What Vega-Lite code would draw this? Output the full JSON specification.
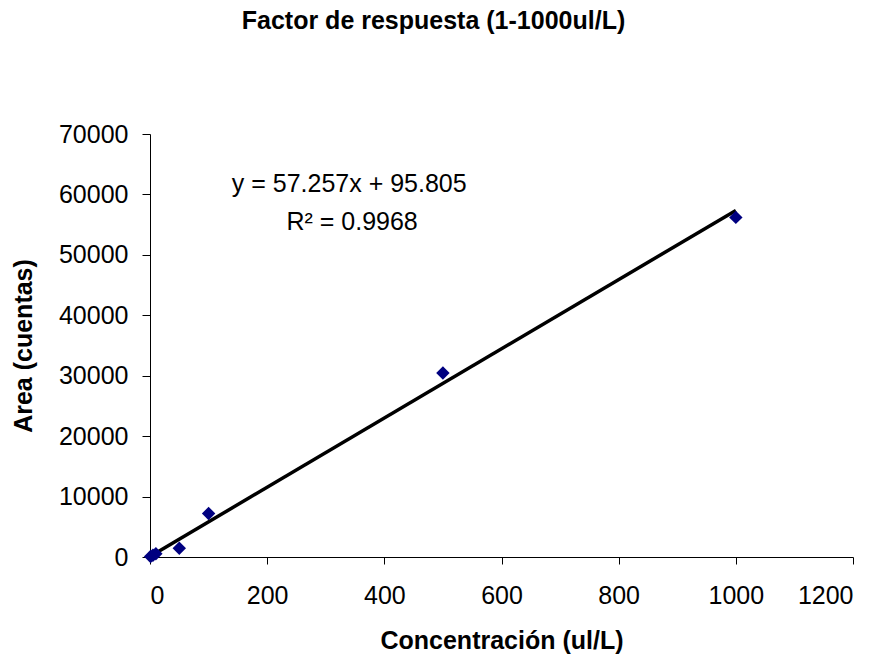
{
  "$schema": "https://vega.github.io/schema/vega-lite/v6.json",
  "width": 703,
  "height": 423,
  "autosize": {"type": "none"},
  "padding": {"left": 150, "top": 134, "right": 36, "bottom": 101},
  "background": "white",
  "config": {
    "view": {"stroke": null},
    "font": "Liberation Sans"
  },
  "title": {
    "text": "Factor de respuesta (1-1000ul/L)",
    "font": "Liberation Sans",
    "fontSize": 25,
    "fontWeight": "bold",
    "color": "black",
    "anchor": "middle",
    "dx": -68,
    "offset": 88
  },
  "datasets": {
    "points": [
      {"conc": 1, "area": 90},
      {"conc": 5, "area": 300},
      {"conc": 10, "area": 550},
      {"conc": 50, "area": 1450},
      {"conc": 100, "area": 7200},
      {"conc": 500, "area": 30450},
      {"conc": 1000, "area": 56200}
    ],
    "trend": [
      {"conc": 0, "area": 95.805},
      {"conc": 1000, "area": 57352.8}
    ]
  },
  "layer": [
    {
      "data": {"name": "trend"},
      "mark": {"type": "line", "color": "black", "strokeWidth": 3.5},
      "encoding": {
        "x": {
          "field": "conc", "type": "quantitative",
          "scale": {"domain": [0, 1200], "nice": false},
          "axis": {
            "title": "Concentración (ul/L)",
            "values": [0, 200, 400, 600, 800, 1000, 1200],
            "format": "d",
            "grid": false,
            "domainColor": "black",
            "tickColor": "black",
            "tickSize": 7,
            "labelFontSize": 25,
            "labelColor": "black",
            "labelPadding": 19,
            "titleFontSize": 25,
            "titleFontWeight": "bold",
            "titleColor": "black",
            "titlePadding": 20
          }
        },
        "y": {
          "field": "area", "type": "quantitative",
          "scale": {"domain": [0, 70000], "nice": false},
          "axis": {
            "title": "Area (cuentas)",
            "values": [0, 10000, 20000, 30000, 40000, 50000, 60000, 70000],
            "format": "d",
            "grid": false,
            "domainColor": "black",
            "tickColor": "black",
            "tickSize": 8,
            "labelFontSize": 25,
            "labelColor": "black",
            "labelPadding": 14,
            "titleFontSize": 25,
            "titleFontWeight": "bold",
            "titleColor": "black",
            "titlePadding": 22
          }
        }
      }
    },
    {
      "data": {"name": "points"},
      "mark": {"type": "point", "shape": "diamond", "filled": true, "color": "#000080", "size": 180, "opacity": 1},
      "encoding": {
        "x": {"field": "conc", "type": "quantitative"},
        "y": {"field": "area", "type": "quantitative"}
      }
    },
    {
      "data": {"values": [{"label": "y = 57.257x + 95.805"}]},
      "mark": {"type": "text", "fontSize": 25, "color": "black", "align": "center", "baseline": "middle"},
      "encoding": {
        "x": {"datum": 340},
        "y": {"datum": 61700},
        "text": {"field": "label"}
      }
    },
    {
      "data": {"values": [{"label": "R² = 0.9968"}]},
      "mark": {"type": "text", "fontSize": 25, "color": "black", "align": "center", "baseline": "middle"},
      "encoding": {
        "x": {"datum": 345},
        "y": {"datum": 55500},
        "text": {"field": "label"}
      }
    }
  ]
}
